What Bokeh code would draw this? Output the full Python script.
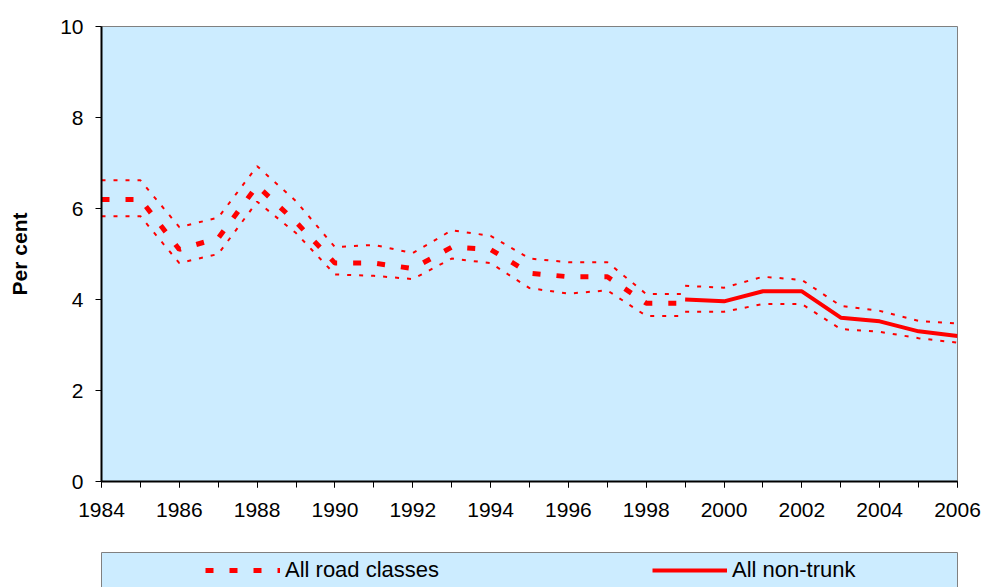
from bokeh.plotting import figure
from bokeh.layouts import column
from bokeh.models import (Range1d, SingleIntervalTicker, FixedTicker, Legend,
                          LegendItem, LinearAxis)
from bokeh.embed import file_html
from bokeh.resources import INLINE

# ---- data ----
years_all = list(range(1984, 2000))
all_mid = [6.2, 6.2, 5.1, 5.35, 6.5, 5.7, 4.8, 4.8, 4.68, 5.15, 5.1, 4.58, 4.5, 4.5, 3.92, 3.92]
all_hi = [6.62, 6.62, 5.59, 5.8, 6.93, 6.16, 5.15, 5.2, 5.02, 5.52, 5.4, 4.9, 4.82, 4.82, 4.12, 4.12]
all_lo = [5.83, 5.83, 4.8, 5.0, 6.15, 5.46, 4.55, 4.52, 4.45, 4.9, 4.8, 4.25, 4.13, 4.2, 3.64, 3.64]

years_nt = list(range(1999, 2007))
nt_mid = [4.0, 3.96, 4.18, 4.18, 3.6, 3.52, 3.3, 3.2]
nt_hi = [4.3, 4.26, 4.5, 4.43, 3.86, 3.75, 3.53, 3.47]
nt_lo = [3.73, 3.73, 3.9, 3.9, 3.35, 3.29, 3.15, 3.05]

legend_labels = ["All road classes", "All non-trunk"]
y_label = "Per cent"

FONT = "Liberation Sans"
RED = "#FF0000"
PANEL = "#CCECFF"
GREY = "#808080"

# ---- main chart ----
p = figure(width=982, height=540, output_backend="svg", toolbar_location=None,
           x_range=Range1d(1984, 2006), y_range=Range1d(0, 10),
           min_border_left=101, min_border_right=25, min_border_top=26, min_border_bottom=59)

p.background_fill_color = PANEL
p.border_fill_color = "white"
p.outline_line_color = GREY
p.outline_line_width = 1
p.grid.visible = False

p.xaxis.ticker = SingleIntervalTicker(interval=2, num_minor_ticks=2)
p.xaxis.axis_line_color = "black"
p.xaxis.axis_line_width = 2
p.xaxis.major_tick_out = 6
p.xaxis.major_tick_in = 0
p.xaxis.minor_tick_out = 6
p.xaxis.minor_tick_in = 0
p.xaxis.major_tick_line_color = "black"
p.xaxis.minor_tick_line_color = "black"
p.xaxis.major_label_text_font = FONT
p.xaxis.major_label_text_font_size = "21px"
p.xaxis.major_label_text_color = "black"
p.xaxis.major_label_standoff = 15

p.yaxis.ticker = SingleIntervalTicker(interval=2, num_minor_ticks=0)
p.yaxis.axis_line_color = "black"
p.yaxis.axis_line_width = 2
p.yaxis.major_tick_out = 6
p.yaxis.major_tick_in = 0
p.yaxis.minor_tick_line_color = None
p.yaxis.major_tick_line_color = "black"
p.yaxis.major_label_text_font = FONT
p.yaxis.major_label_text_font_size = "21px"
p.yaxis.major_label_text_color = "black"
p.yaxis.major_label_standoff = 12
p.yaxis.axis_label = y_label
p.yaxis.axis_label_text_font = FONT
p.yaxis.axis_label_text_font_size = "21px"
p.yaxis.axis_label_text_font_style = "bold"
p.yaxis.axis_label_text_color = "black"
p.yaxis.axis_label_standoff = 26

p.line(years_all, all_mid, line_color=RED, line_width=5, line_dash="8 16")
p.line(years_all, all_hi, line_color=RED, line_width=2, line_dash="4 8")
p.line(years_all, all_lo, line_color=RED, line_width=2, line_dash="4 8")

p.line(years_nt, nt_mid, line_color=RED, line_width=4)
p.line(years_nt, nt_hi, line_color=RED, line_width=2, line_dash="4 8")
p.line(years_nt, nt_lo, line_color=RED, line_width=2, line_dash="4 8")

# ---- legend panel (box open at the bottom edge of the window) ----
p2 = figure(width=982, height=47, output_backend="svg", toolbar_location=None,
            x_range=Range1d(0, 1), y_range=Range1d(0, 1),
            x_axis_location=None, y_axis_location=None,
            min_border_left=97, min_border_right=24, min_border_top=12, min_border_bottom=0)
p2.background_fill_color = PANEL
p2.border_fill_color = "white"
p2.outline_line_color = None
p2.grid.visible = False
for side in ("left", "right", "above"):
    ax = LinearAxis(ticker=FixedTicker(ticks=[]), axis_line_color=GREY, axis_line_width=1,
                    major_tick_line_color=None, minor_tick_line_color=None,
                    major_label_text_font_size="0px")
    p2.add_layout(ax, side)

# legend proxies: same series, outside this panel's ranges (never visible here)
leg_all = p2.line(years_all, all_mid, line_color=RED, line_width=5, line_dash="8 16")
leg_nt = p2.line(years_nt, nt_mid, line_color=RED, line_width=4)

legend = Legend(items=[LegendItem(label=legend_labels[0], renderers=[leg_all]),
                       LegendItem(label=legend_labels[1], renderers=[leg_nt])],
                location=(104, 4), orientation="horizontal",
                padding=0, margin=0, spacing=212,
                glyph_width=75, glyph_height=20,
                label_width=155, label_height=20, label_standoff=5,
                label_text_font=FONT, label_text_font_size="22px",
                label_text_color="black",
                background_fill_alpha=0, border_line_alpha=0)
p2.add_layout(legend)

open("out.html", "w").write(file_html(column(p, p2, spacing=0), INLINE))
